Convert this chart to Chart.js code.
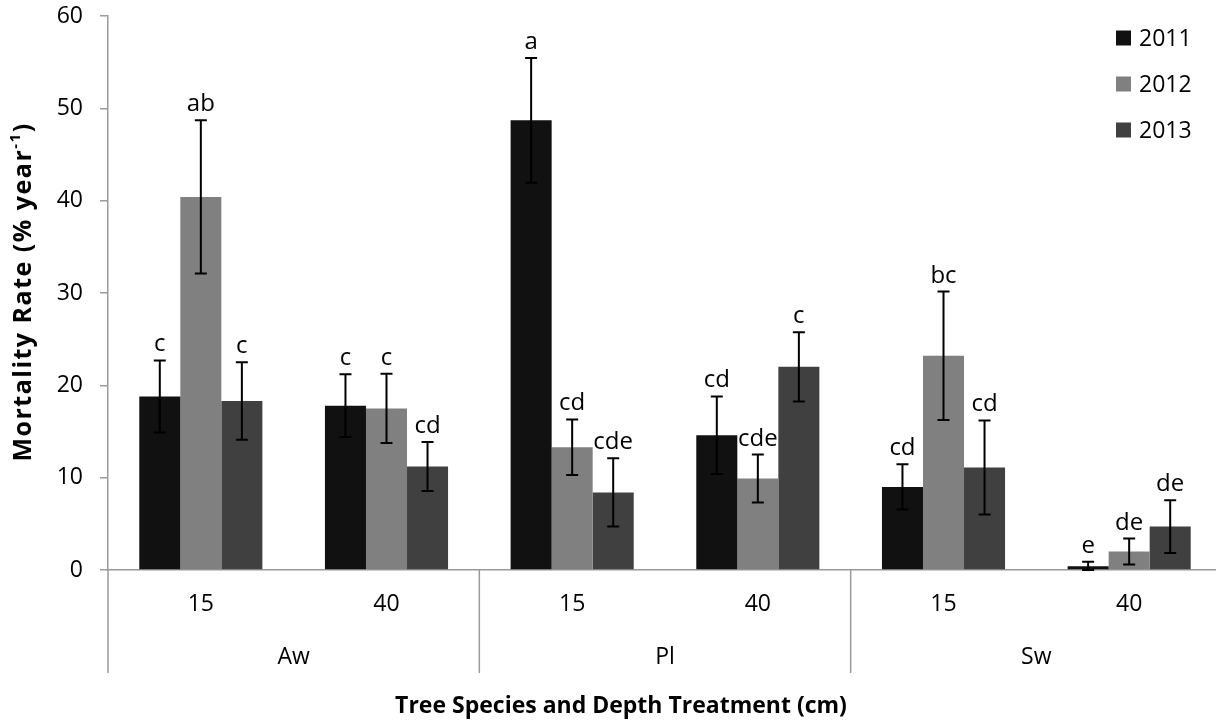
<!DOCTYPE html>
<html>
<head>
<meta charset="utf-8">
<script src="https://cdn.jsdelivr.net/npm/chart.js@4.4.0/dist/chart.umd.min.js"></script>
<style>
  html, body { margin: 0; padding: 0; background: #fff; overflow: hidden; }
  #wrap { width: 1230px; height: 721px; }
</style>
</head>
<body>
<div id="wrap"><canvas id="c" width="1230" height="721"></canvas></div>
<script>
// Depth treatment (cm) for each bar group, and the species each pair belongs to
const depthLabels = ['15', '40', '15', '40', '15', '40'];
const speciesLabels = ['Aw', 'Pl', 'Sw'];
const years = ['2011', '2012', '2013'];

// Mean mortality rate (% per year)
const rate2011 = [18.8, 17.8, 48.7, 14.6, 9.0, 0.4];
const rate2012 = [40.4, 17.5, 13.3, 9.9, 23.2, 2.0];
const rate2013 = [18.3, 11.2, 8.4, 22.0, 11.1, 4.7];

// Standard errors
const se2011 = [3.9, 3.4, 6.75, 4.2, 2.45, 0.5];
const se2012 = [8.3, 3.75, 3.0, 2.6, 6.95, 1.4];
const se2013 = [4.2, 2.65, 3.7, 3.75, 5.1, 2.85];

// Significance letters
const letters2011 = ['c', 'c', 'a', 'cd', 'cd', 'e'];
const letters2012 = ['ab', 'c', 'cd', 'cde', 'bc', 'de'];
const letters2013 = ['c', 'cd', 'cde', 'c', 'cd', 'de'];

const yMin = 0, yMax = 60, yStep = 10;

const xTitle = 'Tree Species and Depth Treatment (cm)';
const yTitleMain = 'Mortality Rate (% year';
const yTitleSup = '-1';
const yTitleEnd = ')';

const FONT = '"Open Sans", sans-serif';
const AXIS = '#9a9a9a';

const extras = {
  id: 'extras',
  afterDatasetsDraw(chart) {
    const ctx = chart.ctx;
    const y = chart.scales.y;
    ctx.save();
    chart.data.datasets.forEach((ds, di) => {
      const meta = chart.getDatasetMeta(di);
      meta.data.forEach((bar, i) => {
        const v = ds.data[i], e = ds.errors[i];
        const yt = y.getPixelForValue(v + e);
        const yb = y.getPixelForValue(Math.max(v - e, yMin));
        const x = bar.x;
        ctx.strokeStyle = '#000';
        ctx.lineWidth = 2;
        ctx.beginPath();
        ctx.moveTo(x, yt); ctx.lineTo(x, yb);
        ctx.moveTo(x - 6, yt); ctx.lineTo(x + 6, yt);
        ctx.moveTo(x - 6, yb); ctx.lineTo(x + 6, yb);
        ctx.stroke();
        ctx.fillStyle = '#000';
        ctx.font = '24px ' + FONT;
        ctx.textAlign = 'center';
        ctx.textBaseline = 'alphabetic';
        ctx.fillText(ds.letters[i], x, yt - 9);
      });
    });
    ctx.restore();
  },
  afterDraw(chart) {
    const ctx = chart.ctx;
    const xs = chart.scales.x;
    const area = chart.chartArea;
    const bottomLine = 673;
    ctx.save();
    // extended y axis line and group separators
    ctx.strokeStyle = AXIS;
    ctx.lineWidth = 1.5;
    ctx.beginPath();
    ctx.moveTo(area.left, area.bottom); ctx.lineTo(area.left, bottomLine);
    const n = depthLabels.length;
    for (let g = 1; g <= speciesLabels.length; g++) {
      const idx = g * 2;
      let bx;
      if (idx < n) bx = (xs.getPixelForTick(idx - 1) + xs.getPixelForTick(idx)) / 2;
      else bx = area.right;
      ctx.moveTo(bx, area.bottom); ctx.lineTo(bx, bottomLine);
    }
    ctx.stroke();

    // species labels
    ctx.fillStyle = '#000';
    ctx.font = '23px ' + FONT;
    ctx.textAlign = 'center';
    ctx.textBaseline = 'middle';
    speciesLabels.forEach((s, g) => {
      const cx = (xs.getPixelForTick(g * 2) + xs.getPixelForTick(g * 2 + 1)) / 2;
      ctx.fillText(s, cx, 657);
    });

    // x title
    ctx.font = 'bold 23px ' + FONT;
    ctx.fillText(xTitle, 621, 706);

    // y title with superscript
    ctx.translate(24, 292);
    ctx.rotate(-Math.PI / 2);
    ctx.textAlign = 'left';
    ctx.letterSpacing = '1.5px';
    const mainFont = 'bold 25px ' + FONT, supFont = 'bold 15px ' + FONT;
    ctx.font = mainFont; const w1 = ctx.measureText(yTitleMain).width;
    const w3 = ctx.measureText(yTitleEnd).width;
    ctx.font = supFont; const w2 = ctx.measureText(yTitleSup).width;
    let sx = -(w1 + w2 + w3) / 2;
    ctx.font = mainFont; ctx.fillText(yTitleMain, sx, 0); sx += w1;
    ctx.font = supFont; ctx.fillText(yTitleSup, sx, -8); sx += w2;
    ctx.font = mainFont; ctx.fillText(yTitleEnd, sx, 0);
    ctx.restore();

    // legend
    ctx.save();
    ctx.font = '23px ' + FONT;
    ctx.textAlign = 'left';
    ctx.textBaseline = 'middle';
    chart.data.datasets.forEach((ds, di) => {
      const cy = 38 + di * 46;
      ctx.fillStyle = ds.backgroundColor;
      ctx.fillRect(1116, cy - 7.5, 15, 15);
      ctx.fillStyle = '#000';
      ctx.fillText(ds.label, 1139, cy + 1);
    });
    ctx.restore();
  }
};

new Chart(document.getElementById('c'), {
  type: 'bar',
  data: {
    labels: depthLabels,
    datasets: [
      { label: years[0], data: rate2011, errors: se2011, letters: letters2011, backgroundColor: '#111111' },
      { label: years[1], data: rate2012, errors: se2012, letters: letters2012, backgroundColor: '#808080' },
      { label: years[2], data: rate2013, errors: se2013, letters: letters2013, backgroundColor: '#404040' }
    ]
  },
  options: {
    responsive: false,
    animation: false,
    devicePixelRatio: 1,
    layout: { padding: { left: 0, top: 16, right: 8, bottom: 0 } },
    datasets: { bar: { categoryPercentage: 0.663, barPercentage: 1.0, borderWidth: 0 } },
    plugins: { legend: { display: false }, tooltip: { enabled: false } },
    scales: {
      x: {
        type: 'category',
        offset: true,
        grid: { display: false, drawOnChartArea: false, drawTicks: false },
        border: { display: true, color: AXIS, width: 1.5 },
        ticks: { color: '#000', font: { family: FONT, size: 23 }, padding: 21, maxRotation: 0 },
        afterFit(scale) { scale.height = 151; scale.paddingLeft = 0; scale.paddingRight = 0; }
      },
      y: {
        min: yMin, max: yMax,
        grid: { drawOnChartArea: false, drawTicks: true, tickLength: 8, color: AXIS, lineWidth: 1.5 },
        border: { display: true, color: AXIS, width: 1.5 },
        ticks: { stepSize: yStep, color: '#000', font: { family: FONT, size: 23 }, padding: 17 },
        afterFit(scale) { scale.width = 108; scale.paddingTop = 0; scale.paddingBottom = 0; }
      }
    }
  },
  plugins: [extras]
});
</script>
</body>
</html>
